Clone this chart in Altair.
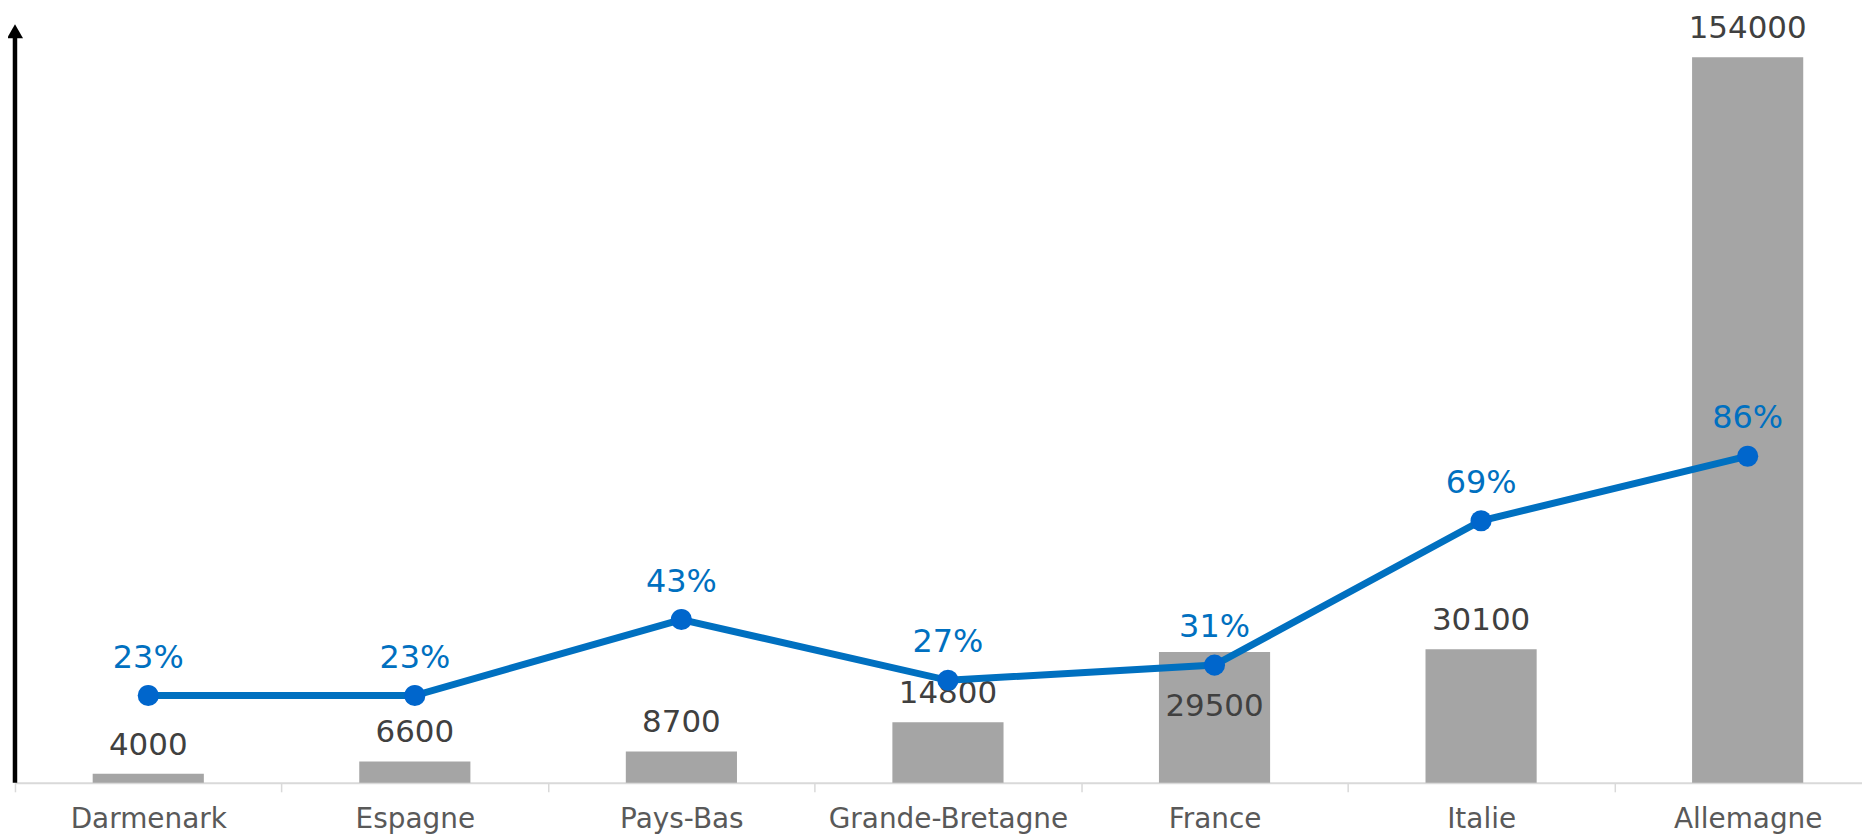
import altair as alt
import pandas as pd

countries = ["Darmenark", "Espagne", "Pays-Bas", "Grande-Bretagne", "France", "Italie", "Allemagne"]
values = [4000, 6600, 8700, 14800, 29500, 30100, 154000]
shares = [0.23, 0.23, 0.43, 0.27, 0.31, 0.69, 0.86]
label_inside = ["France"]

df = pd.DataFrame({"pays": countries, "valeur": values, "part": shares})
df["inside"] = df["pays"].isin(label_inside)

FONT = "DejaVu Sans"
W, H = 1853, 762
XR = 1872

x = alt.X("pays:N", sort=countries, title=None,
          scale=alt.Scale(paddingInner=0, paddingOuter=0, range=[0, XR]),
          axis=alt.Axis(labelAngle=0, labelFont=FONT, labelFontSize=28, labelColor="#595959",
                        labelLimit=0, labelPadding=14, domainColor="#D9D9D9", domainWidth=2,
                        tickColor="#D9D9D9", tickWidth=1.5, tickSize=9, tickBand="extent"))

yb = alt.Y("valeur:Q", scale=alt.Scale(domain=[2120, 161100], zero=False, nice=False), axis=None)
yp = alt.Y("part:Q", scale=alt.Scale(domain=[0, 2], nice=False), axis=None)

base = alt.Chart(df)

bars = base.mark_bar(color="#A5A5A5", width=alt.RelativeBandSize(0.417)).encode(
    x=x, y=yb, y2=alt.datum(2120))

bar_lab_out = base.transform_filter("!datum.inside").mark_text(
    font=FONT, fontSize=31, color="#404040", baseline="bottom", dy=-12
).encode(x=x, y=yb, text=alt.Text("valeur:Q", format="d"))

bar_lab_in = base.transform_filter("datum.inside").mark_text(
    font=FONT, fontSize=31, color="#404040", baseline="bottom", dy=71
).encode(x=x, y=yb, text=alt.Text("valeur:Q", format="d"))

line = base.mark_line(color="#0070C0", strokeWidth=7).encode(x=x, y=yp)
pts = base.mark_point(filled=True, color="#0066CC", opacity=1, size=450, shape="circle").encode(x=x, y=yp)
pct_lab = base.mark_text(font=FONT, fontSize=32, color="#0070C0", baseline="bottom", dy=-21).encode(
    x=x, y=yp, text=alt.Text("part:Q", format=".0%"))

yaxis_line = alt.Chart(pd.DataFrame({"a": [0]})).mark_rule(color="#000000", strokeWidth=4.5).encode(
    x=alt.value(0), y=alt.value(14), y2=alt.value(H))
arrow = alt.Chart(pd.DataFrame({"a": [0]})).mark_point(
    shape="triangle-up", filled=True, color="#000000", opacity=1, size=260
).encode(x=alt.value(0), y=alt.value(8))

chart = alt.layer(bars, bar_lab_out, bar_lab_in, line, pts, pct_lab, yaxis_line, arrow).resolve_scale(
    y="independent"
).properties(
    width=W, height=H,
    background="white",
    autosize=alt.AutoSizeParams(type="none"),
    padding={"left": 7, "top": 14, "right": 0, "bottom": 53},
).configure_view(stroke=None)

chart.save("out.html", embed_options={"renderer": "svg", "actions": False})
